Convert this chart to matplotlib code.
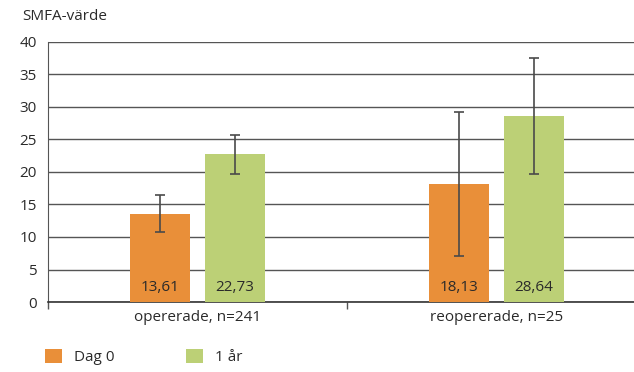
import matplotlib
matplotlib.use("Agg")
import matplotlib.pyplot as plt
import numpy as np

plt.rcParams['font.family'] = ['Open Sans', 'DejaVu Sans']

categories = ["opererade, n=241", "reopererade, n=25"]
series_names = ["Dag 0", "1 år"]
dag0 = [13.61, 18.13]
ar1 = [22.73, 28.64]
dag0_err = [2.9, 11.1]
ar1_err = [3.0, 8.9]
value_labels_dag0 = ["13,61", "18,13"]
value_labels_ar1 = ["22,73", "28,64"]
yticks = [0, 5, 10, 15, 20, 25, 30, 35, 40]

orange = "#E98F39"
green = "#BCD076"
text_col = "#2a2a2a"
grid_col = "#555555"

fig = plt.figure(figsize=(6.34, 3.72), dpi=100)
W, H = 634, 372
ax = fig.add_axes([48 / W, (H - 302) / H, 598 / W, 260 / H])

x = np.arange(len(categories))
bw = 0.2
off = 0.125
b1 = ax.bar(x - off, dag0, bw, color=orange, zorder=3, label=series_names[0])
b2 = ax.bar(x + off, ar1, bw, color=green, zorder=3, label=series_names[1])
ax.errorbar(x - off, dag0, yerr=dag0_err, fmt="none", ecolor="#4a4a4a",
            elinewidth=1.2, capsize=3.5, capthick=1.2, zorder=4)
ax.errorbar(x + off, ar1, yerr=ar1_err, fmt="none", ecolor="#4a4a4a",
            elinewidth=1.2, capsize=3.5, capthick=1.2, zorder=4)

for xi, lab in zip(x - off, value_labels_dag0):
    ax.text(xi, 2.2, lab, ha="center", va="center", fontsize=11, color=text_col, zorder=5)
for xi, lab in zip(x + off, value_labels_ar1):
    ax.text(xi, 2.2, lab, ha="center", va="center", fontsize=11, color=text_col, zorder=5)

ax.set_xlim(-0.5, 1.5)
ax.set_ylim(0, 40)
ax.set_yticks(yticks)
ax.set_yticklabels([str(v) for v in yticks], fontsize=11, color=text_col)
ax.yaxis.grid(True, color=grid_col, linewidth=1.0, zorder=0)
ax.set_axisbelow(True)
ax.tick_params(axis="y", length=0, pad=8)

# category separators on the x axis
ax.set_xticks([-0.5, 0.5])
ax.set_xticklabels([])
ax.tick_params(axis="x", length=5, width=1, color=grid_col, direction="out")
ax.set_xticks(x, minor=True)
ax.set_xticklabels(categories, minor=True, fontsize=11, color=text_col)
ax.tick_params(axis="x", which="minor", length=0, pad=6)

for s in ["top", "right"]:
    ax.spines[s].set_visible(False)
ax.spines["left"].set_color(grid_col)
ax.spines["bottom"].set_color("#333333")
ax.spines["bottom"].set_linewidth(1.2)

fig.text(22 / W, 1 - 17 / H, "SMFA-värde", fontsize=11, color=text_col, va="center", ha="left")

leg = fig.legend(handles=[b1, b2], labels=series_names, loc="center left",
                 bbox_to_anchor=(31 / W, 1 - 357 / H), ncol=2, frameon=False,
                 fontsize=11, handlelength=1.1, handleheight=1.1, handletextpad=0.8,
                 columnspacing=4.7, labelcolor=text_col)

fig.savefig("out.png", dpi=100)
